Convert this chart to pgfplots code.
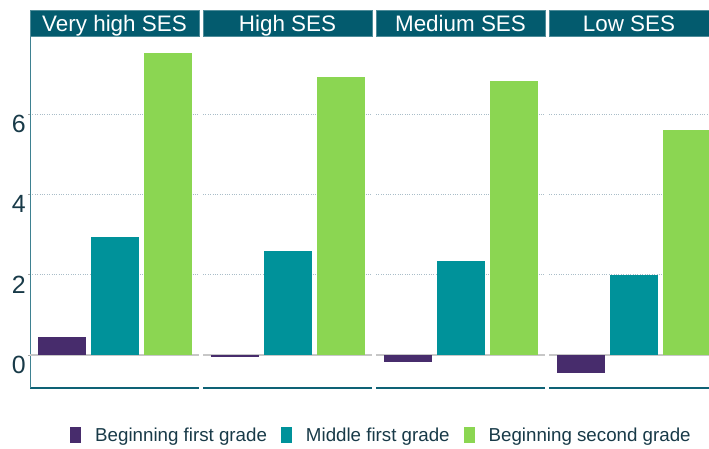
\documentclass[border=0pt]{standalone}
\usepackage{pgfplots}
\pgfplotsset{compat=1.18}
\usepackage{fontspec}
\setmainfont{Liberation Sans}
\definecolor{cPurple}{HTML}{472C6C}
\definecolor{cTeal}{HTML}{00929A}
\definecolor{cGreen}{HTML}{8BD652}
\definecolor{cStrip}{HTML}{035B6E}
\definecolor{cText}{HTML}{183A48}
\definecolor{cGrid}{HTML}{A9BDC8}
\definecolor{cAxis}{HTML}{0E6275}
\pgfplotsset{
  every axis title shift=0pt,
  /pgfplots/ybar legend/.style={/pgfplots/legend image code/.code={\fill (0bp,-8bp) rectangle (11bp,8bp);}},
  panel/.style={
    scale only axis, width=169bp, height=351bp,
    xmin=-0.6038, xmax=2.585, ymin=-0.822, ymax=7.92,
    ybar, bar width=48bp, bar shift=0pt,
    axis x line*=bottom, axis y line*=left,
    x axis line style={draw=cAxis, line width=1.3bp, -},
    y axis line style={draw=cAxis!80, line width=0.9bp, -},
    xtick=\empty,
    ytick={2,4,6},
    extra y ticks={0},
    extra y tick style={grid style={solid, draw=black!22, line width=2bp}},
    ymajorgrids,
    grid style={dotted, draw=cGrid, line width=0.7bp},
    tick align=outside, major tick length=2bp,
    ytick style={draw=gray!70, line width=0.6bp},
    /pgf/number format/assume math mode=true,
    yticklabel style={font=\fontsize{25}{25}\selectfont, text=cText, anchor=north east, inner sep=0pt, xshift=-2bp, yshift=-1bp},
    title style={at={(0.5,1)}, anchor=south, fill=cStrip, text=white, inner sep=0pt,
      minimum width=\pgfkeysvalueof{/pgfplots/width}, minimum height=26bp, text height=16bp, text depth=0bp,
      font=\fontsize{22.5}{22.5}\selectfont, draw=cStrip!70!white, line width=0.6bp},
  },
  nolefty/.style={y axis line style={draw=none}, yticklabels={}, extra y tick labels={}, ytick style={draw=none}},
}
\begin{document}
\begin{tikzpicture}
\useasboundingbox (0,0) rectangle (709bp,449bp);
% Very high SES
\begin{axis}[panel, at={(30bp,61bp)}, anchor=south west, title={Very high SES},
  legend columns=3,
  legend style={at={(axis description cs:0.2367,-0.1339)}, anchor=west, draw=none, fill=none, inner sep=0pt,
    /tikz/column sep=14bp,
    nodes={inner sep=0pt, font=\fontsize{18.8}{18.8}\selectfont, text=cText}}]
\addplot[draw=none, fill=cPurple] coordinates {(0,0.45)};
\addplot[draw=none, fill=cTeal] coordinates {(1,2.94)};
\addplot[draw=none, fill=cGreen] coordinates {(2,7.52)};
\legend{Beginning first grade, Middle first grade, Beginning second grade}
\end{axis}
% High SES
\begin{axis}[panel, nolefty, at={(203bp,61bp)}, anchor=south west, title={High SES}]
\addplot[draw=none, fill=cPurple] coordinates {(0,-0.04)};
\addplot[draw=none, fill=cTeal] coordinates {(1,2.59)};
\addplot[draw=none, fill=cGreen] coordinates {(2,6.92)};
\end{axis}
% Medium SES
\begin{axis}[panel, nolefty, at={(376bp,61bp)}, anchor=south west, title={Medium SES}]
\addplot[draw=none, fill=cPurple] coordinates {(0,-0.17)};
\addplot[draw=none, fill=cTeal] coordinates {(1,2.34)};
\addplot[draw=none, fill=cGreen] coordinates {(2,6.82)};
\end{axis}
% Low SES
\begin{axis}[panel, nolefty, at={(549bp,61bp)}, anchor=south west, width=160bp, xmax=2.415, title={Low SES}]
\addplot[draw=none, fill=cPurple] coordinates {(0,-0.44)};
\addplot[draw=none, fill=cTeal] coordinates {(1,1.99)};
\addplot[draw=none, fill=cGreen] coordinates {(2,5.60)};
\end{axis}
\end{tikzpicture}
\end{document}
